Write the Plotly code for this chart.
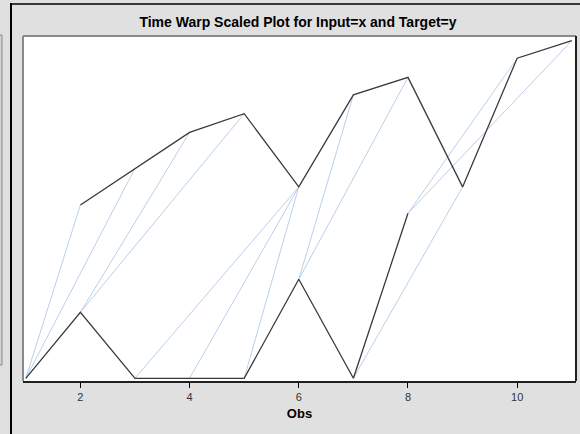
import plotly.graph_objects as go

# ---- data ----
obs = [1, 2, 3, 4, 5, 6, 7, 8, 9, 10, 11]
input_x = [0, 2, 0, 0, 0, 3, 0, 5, None, None, None]               # lower sequence
target_y = [None, 5.25, 6.36, 7.45, 8.02, 5.80, 8.59, 9.12, 5.80, 9.70, 10.23]  # upper (scaled) sequence
warp_input_obs = [1, 1, 2, 2, 3, 4, 5, 6, 6, 7, 8, 8]
warp_target_obs = [2, 3, 4, 5, 6, 6, 6, 7, 8, 9, 10, 11]
tick_vals = [2, 4, 6, 8, 10]

W, H = 580, 434
L, R, T, B = 23, 576, 36, 381   # plot area in pixels

def px(x):
    return (x - L) / (R - L)

def py(y):
    return (B - y) / (B - T)

# warping lines
wx, wy = [], []
for i, j in zip(warp_input_obs, warp_target_obs):
    wx += [obs[i - 1], obs[j - 1], None]
    wy += [input_x[i - 1], target_y[j - 1], None]

fig = go.Figure()
fig.add_trace(go.Scatter(x=wx, y=wy, mode="lines",
                         line=dict(color="#b9d0ea", width=1),
                         hoverinfo="skip", showlegend=False))
fig.add_trace(go.Scatter(x=obs, y=input_x, mode="lines", name="Input=x",
                         line=dict(color="#3a3a3a", width=1.3),
                         connectgaps=False, showlegend=False))
fig.add_trace(go.Scatter(x=obs, y=target_y, mode="lines", name="Target=y",
                         line=dict(color="#3a3a3a", width=1.3),
                         connectgaps=False, showlegend=False))

shapes = [
    # frame around plot area: top/left gray, bottom/right dark
    dict(type="line", xref="paper", yref="paper", x0=px(L), x1=px(R), y0=py(T), y1=py(T),
         line=dict(color="#8a8a8a", width=2)),
    dict(type="line", xref="paper", yref="paper", x0=px(L), x1=px(L), y0=py(T), y1=py(B),
         line=dict(color="#8a8a8a", width=2)),
    dict(type="line", xref="paper", yref="paper", x0=px(R), x1=px(R), y0=py(T), y1=py(B),
         line=dict(color="#202020", width=2)),
    # outer decorations
    dict(type="line", xref="paper", yref="paper", x0=px(11), x1=px(11), y0=py(3), y1=py(434),
         line=dict(color="#000000", width=2)),
    dict(type="line", xref="paper", yref="paper", x0=px(11), x1=px(580), y0=py(4), y1=py(4),
         line=dict(color="#000000", width=1.5)),
    dict(type="rect", xref="paper", yref="paper", x0=px(-5), x1=px(2), y0=py(35), y1=py(365),
         fillcolor="#d2d2d2", line=dict(color="#8a8a8a", width=1)),
]

fig.update_layout(
    width=W, height=H,
    margin=dict(l=L, r=W - R, t=T, b=H - B),
    paper_bgcolor="#e0e0e0",
    plot_bgcolor="#ffffff",
    font=dict(family="Liberation Sans, Arial, sans-serif", color="#333333"),
    title=dict(text="<b>Time Warp Scaled Plot for Input=x and Target=y</b>",
               x=px(298), xref="paper", xanchor="center",
               y=1 - 22 / H, yref="container", yanchor="middle",
               font=dict(size=14, color="#000000")),
    shapes=shapes,
    showlegend=False,
)
fig.update_xaxes(range=[0.949, 11.077], tickvals=tick_vals, ticktext=[str(v) for v in tick_vals],
                 ticks="outside", ticklen=5, tickcolor="#000000", tickwidth=1,
                 showline=True, linecolor="#202020", linewidth=2,
                 showgrid=False, zeroline=False,
                 tickfont=dict(size=11, color="#333333"),
                 title=dict(text="<b>Obs</b>", font=dict(size=13, color="#000000"), standoff=7))
fig.update_yaxes(range=[-0.082, 10.373], showticklabels=False, showgrid=False,
                 zeroline=False, showline=False, ticks="")

fig.write_html("out.html",
               config={"displayModeBar": False},
               post_script="document.body.style.margin='0';document.body.style.background='#e0e0e0';")
